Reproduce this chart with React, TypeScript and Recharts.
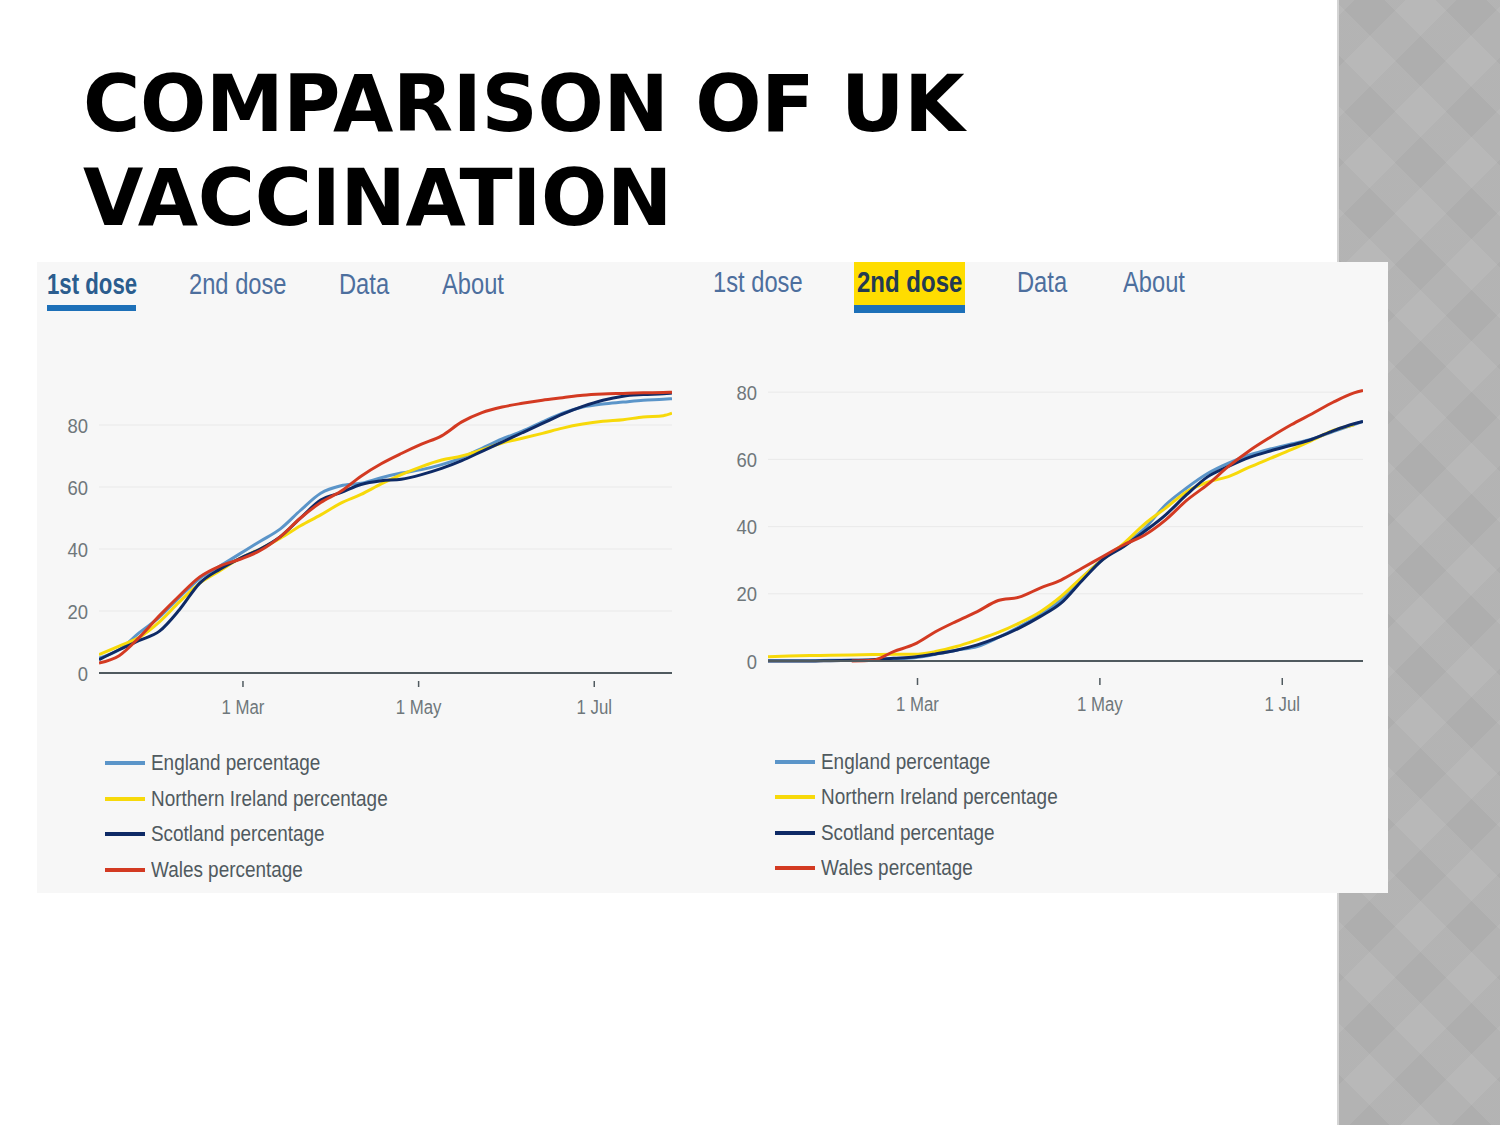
import React from "react";
import { LineChart, Line, XAxis, YAxis, CartesianGrid } from "recharts";

// day of year 2021 (0 = 1 Jan)
const days = [9, 16, 23, 30, 37, 44, 51, 58, 65, 72, 79, 86, 93, 100, 107, 114, 121, 128, 135, 142, 149, 156, 163, 170, 177, 184, 191, 198, 205, 208];

// 1st dose
const firstEngland = [4.8, 7.5, 13, 18, 24.5, 30.5, 34.5, 38.5, 42.5, 46.5, 52.5, 58, 60.4, 61.2, 63, 64.5, 65.6, 67.2, 69.5, 72.5, 75.5, 78, 81, 83.8, 85.8, 86.8, 87.4, 88, 88.3, 88.5];
const firstNI = [5.9, 8.7, 11.5, 16.5, 23, 29, 33, 37, 40, 43.5, 47.5, 51, 54.8, 57.6, 61, 64, 66.6, 68.7, 70, 72, 74.2, 75.7, 77.3, 79, 80.3, 81.2, 81.7, 82.6, 83, 83.8];
const firstScotland = [4.3, 7.5, 10.5, 13.5, 20.5, 29, 33.5, 37, 40, 44, 50, 55.8, 58.2, 60.8, 62, 62.5, 64, 66, 68.5, 71.5, 74.5, 77.5, 80.5, 83.5, 86, 88, 89.3, 89.8, 90.1, 90.3];
const firstWales = [3.2, 5.6, 11.5, 18.5, 25, 31, 34.5, 36.7, 39.5, 44, 50, 55, 58.6, 63.5, 67.5, 70.8, 73.8, 76.5, 81, 84, 85.8, 87, 88, 88.8, 89.6, 90, 90.2, 90.4, 90.5, 90.6];

// 2nd dose
const secondEngland = [0.1, 0.1, 0.1, 0.2, 0.2, 0.3, 0.6, 1.0, 2.0, 3.2, 4.3, 7.0, 10.2, 13.7, 18.2, 24.8, 30.3, 34.7, 39.5, 46.5, 51.5, 55.8, 58.9, 61.3, 63.1, 64.6, 66.1, 68.3, 70.4, 71.3];
const secondNI = [1.3, 1.5, 1.6, 1.7, 1.8, 1.9, 2.0, 2.0, 2.8, 4.3, 6.3, 8.5, 11.3, 14.6, 19.2, 24.9, 30.3, 35, 40.8, 45.5, 50.4, 53.2, 54.9, 57.7, 60.3, 62.9, 65.7, 68.6, 70.3, null];
const secondScotland = [0, 0, 0, 0.1, 0.2, 0.4, 0.8, 1.2, 2.1, 3.2, 4.8, 7.0, 9.8, 13.2, 17.2, 23.9, 30.2, 34.1, 38.6, 43.5, 49.5, 54.8, 57.9, 60.6, 62.5, 64.2, 66, 68.5, 70.6, 71.3];
const secondWales = [null, null, null, null, 0, 0.2, 2.8, 5.0, 8.7, 11.8, 14.7, 18.0, 19.0, 21.7, 24.1, 27.6, 31.1, 34.6, 37.5, 42, 47.8, 52.5, 57.9, 62.6, 66.6, 70.3, 73.6, 77, 79.8, 80.5];

const tickDays = [59, 120, 181];
const tickLabels = ["1 Mar", "1 May", "1 Jul"];
const yTicks = [0, 20, 40, 60, 80];
const gridValues = [20, 40, 60, 80];
const tabLabels = ["1st dose", "2nd dose", "Data", "About"];

const seriesKeys = ["eng", "ni", "sco", "wal"];
const seriesNames = ["England percentage", "Northern Ireland percentage", "Scotland percentage", "Wales percentage"];
const seriesColors = ["#5b95c9", "#f7d90a", "#0e2a66", "#d33a22"];

const SANS = '"Liberation Sans", Arial, sans-serif';

const buildRows = (e: any[], n: any[], s: any[], w: any[]) =>
  days.map((d, i) => ({ day: d, eng: e[i], ni: n[i], sco: s[i], wal: w[i] }));

const firstRows = buildRows(firstEngland, firstNI, firstScotland, firstWales);
const secondRows = buildRows(secondEngland, secondNI, secondScotland, secondWales);

// narrow look: the source screenshot used a condensed face
const makeXTick = (markTop: number, markBottom: number, labelY: number) => (props: any) => {
  const { x, y, payload } = props;
  const i = tickDays.indexOf(payload.value);
  return (
    <g>
      <line x1={x} x2={x} y1={y + markTop} y2={y + markBottom} stroke="#505a5f" strokeWidth={1.5} />
      <text transform={`translate(${x},${y + labelY}) scale(0.8,1)`} textAnchor="middle" fill="#6f777b" fontSize={21} fontFamily={SANS}>
        {tickLabels[i]}
      </text>
    </g>
  );
};

const YTick = (props: any) => {
  const { x, y, payload } = props;
  return (
    <text transform={`translate(${x},${y}) scale(0.88,1)`} dy="0.36em" textAnchor="end" fill="#6f777b" fontSize={21} fontFamily={SANS}>
      {payload.value}
    </text>
  );
};

function DoseChart({ rows, width, height, margin, tick }: any) {
  return (
    <LineChart width={width} height={height} data={rows} margin={margin}>
      <CartesianGrid vertical={false} horizontalValues={gridValues} stroke="#e9e9e9" strokeWidth={1} />
      <XAxis
        type="number"
        dataKey="day"
        domain={[9, 208]}
        ticks={tickDays}
        height={30}
        tickLine={false}
        tickSize={0}
        tickMargin={0}
        tick={tick}
        axisLine={{ stroke: "#505a5f", strokeWidth: 2 }}
        allowDataOverflow
      />
      <YAxis
        domain={[0, 100]}
        ticks={yTicks}
        width={40}
        axisLine={false}
        tickLine={false}
        tickSize={0}
        tickMargin={11}
        tick={YTick}
      />
      {seriesKeys.map((k, i) => (
        <Line
          key={k}
          type="monotone"
          dataKey={k}
          name={seriesNames[i]}
          stroke={seriesColors[i]}
          strokeWidth={3}
          dot={false}
          isAnimationActive={false}
        />
      ))}
    </LineChart>
  );
}

function LegendBlock({ left, top, gap }: { left: number; top: number; gap: number }) {
  return (
    <div style={{ position: "absolute", left, top }}>
      {seriesNames.map((n, i) => (
        <div key={n} style={{ position: "absolute", left: 0, top: i * gap - 14, height: 28, display: "flex", alignItems: "center", whiteSpace: "nowrap" }}>
          <div style={{ width: 40, height: 4, background: seriesColors[i], marginRight: 6 }} />
          <span style={{ display: "inline-block", fontFamily: SANS, fontSize: 22, color: "#505a5f", transform: "scaleX(0.86)", transformOrigin: "left center" }}>{n}</span>
        </div>
      ))}
    </div>
  );
}

function Tabs({ positions, active, top, highlight }: any) {
  return (
    <>
      {tabLabels.map((t, i) => {
        const isActive = i === active;
        return (
          <span
            key={t}
            style={{
              position: "absolute",
              left: positions[i],
              top,
              display: "inline-block",
              fontFamily: SANS,
              fontSize: 30,
              fontWeight: isActive ? 700 : 400,
              color: isActive ? (highlight ? "#233a52" : "#2b5d8e") : "#4d6f9e",
              whiteSpace: "nowrap",
              lineHeight: "36px",
              transform: isActive ? (highlight ? "scaleX(0.8)" : "scaleX(0.74)") : "scaleX(0.79)",
              transformOrigin: "left center",
            }}
          >
            {t}
          </span>
        );
      })}
    </>
  );
}

export default function App() {
  return (
    <div style={{ position: "absolute", left: 0, top: 0, width: 1500, height: 1125, background: "#ffffff", overflow: "hidden", fontFamily: "'DejaVu Sans', sans-serif" }}>
      {/* decorative side strip */}
      <div
        style={{
          position: "absolute",
          left: 1337,
          top: 0,
          width: 163,
          height: 1125,
          backgroundColor: "#b6b6b6",
          backgroundImage:
            "repeating-linear-gradient(45deg, rgba(0,0,0,0.025) 0 36px, rgba(255,255,255,0.02) 36px 72px), repeating-linear-gradient(-45deg, rgba(0,0,0,0.025) 0 36px, rgba(255,255,255,0.02) 36px 72px)",
          borderLeft: "2px solid #d4d4d4",
        }}
      />

      <div style={{ position: "absolute", left: 83, top: 57, fontWeight: 700, fontSize: 78, lineHeight: "94px", color: "#000", letterSpacing: -0.3 }}>
        COMPARISON OF UK
        <br />
        VACCINATION
      </div>

      <div style={{ position: "absolute", left: 37, top: 262, width: 1351, height: 631, background: "#f7f7f7" }}>
        {/* left: 1st dose */}
        <Tabs positions={[10, 152, 302, 405]} active={0} top={4} />
        <div style={{ position: "absolute", left: 10, top: 43, width: 89, height: 6, background: "#1d70b8" }} />
        <div style={{ position: "absolute", left: 0, top: 0 }}>
          <DoseChart
            rows={firstRows}
            width={660}
            height={631}
            margin={{ top: 101, right: 25, bottom: 190, left: 22 }}
            tick={makeXTick(8, 14, 41)}
          />
        </div>
        <LegendBlock left={68} top={501} gap={35.7} />

        {/* right: 2nd dose */}
        <div style={{ position: "absolute", left: 817, top: 0, width: 111, height: 43, background: "#ffdd00" }} />
        <div style={{ position: "absolute", left: 817, top: 43, width: 111, height: 8, background: "#1d70b8" }} />
        <Tabs positions={[676, 820, 980, 1086]} active={1} top={2} highlight />
        <div style={{ position: "absolute", left: 663, top: 0 }}>
          <DoseChart
            rows={secondRows}
            width={688}
            height={631}
            margin={{ top: 63, right: 25, bottom: 202, left: 28 }}
            tick={makeXTick(17, 24, 50)}
          />
        </div>
        <LegendBlock left={738} top={500} gap={35.3} />
      </div>
    </div>
  );
}
